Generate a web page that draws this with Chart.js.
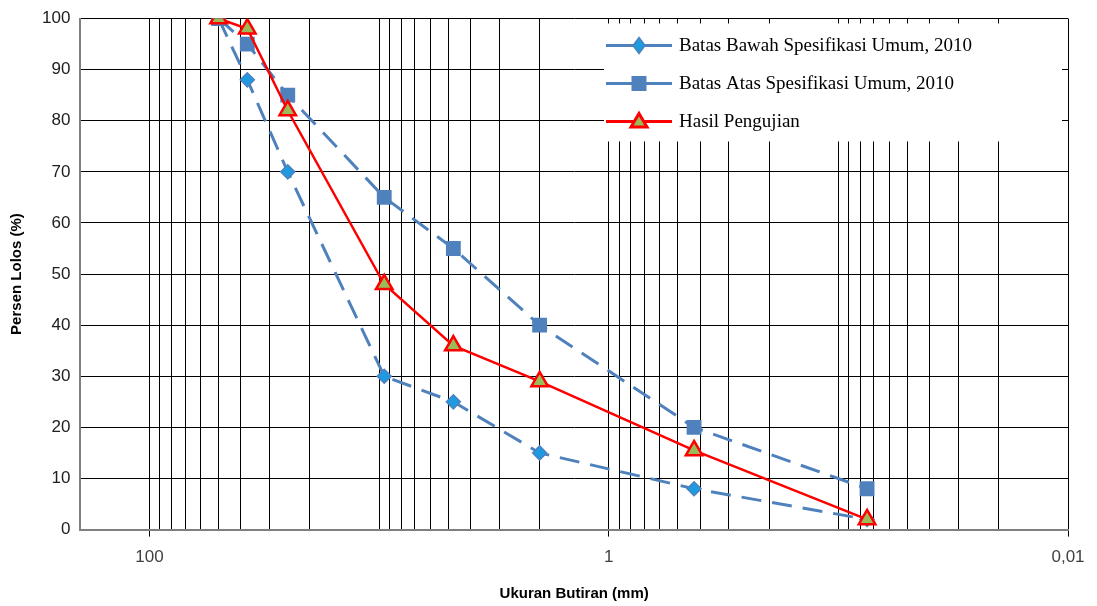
<!DOCTYPE html>
<html>
<head>
<meta charset="utf-8">
<script src="https://cdn.jsdelivr.net/npm/chart.js@4.4.1/dist/chart.umd.min.js"></script>
<style>
  html, body { margin: 0; padding: 0; background: #ffffff; }
  #wrap { width: 1097px; height: 606px; }
</style>
</head>
<body>
<div id="wrap"><canvas id="c" width="1097" height="606"></canvas></div>
<script>
// Sieve sizes (mm)
const sieveSizes = [50, 37.5, 25, 9.5, 4.75, 2, 0.425, 0.075];
// Series values (% passing)
const lowerLimit = [100, 88, 70, 30, 25, 15, 8, 2];
const upperLimit = [100, 95, 85, 65, 55, 40, 20, 8];
const testResult = [100, 98, 82, 48, 36, 29, 15.5, 2];
// Series names
const seriesNames = ['Batas Bawah Spesifikasi Umum, 2010', 'Batas Atas Spesifikasi Umum, 2010', 'Hasil Pengujian'];
// Axis tick labels shown
const xTickValues = [100, 1, 0.01];
const xTickText = ['100', '1', '0,01'];
const xAxisTitle = 'Ukuran Butiran (mm)';
const yAxisTitle = 'Persen Lolos (%)';

const toPoints = (vals) => sieveSizes.map((s, i) => ({ x: s, y: vals[i] }));

const blue = '#4F81BD';

function drawMarker(ctx, style, r, x, y) {
  if (style === 'rectRot') {
    ctx.moveTo(x, y - r); ctx.lineTo(x + r * 0.75, y); ctx.lineTo(x, y + r); ctx.lineTo(x - r * 0.75, y); ctx.closePath();
  } else if (style === 'rect') {
    ctx.rect(x - r, y - r, 2 * r, 2 * r);
  } else if (style === 'triangle') {
    ctx.moveTo(x, y - r); ctx.lineTo(x + r * 1.0, y + r * 0.7); ctx.lineTo(x - r * 1.0, y + r * 0.7); ctx.closePath();
  }
}

const legendPlugin = {
  id: 'insideLegend',
  afterDraw(chart) {
    const ctx = chart.ctx;
    const ca = chart.chartArea;
    const x0 = ca.right - 464, y0 = ca.top + 5, w = 458, h = 118;
    ctx.save();
    ctx.fillStyle = '#ffffff';
    ctx.fillRect(x0, y0, w, h);
    const legendMarkers = [
      { style: 'rectRot', r: 8, fill: '#1E9BE0', stroke: blue, lw: 1.5 },
      { style: 'rect', r: 7.5, fill: blue, stroke: blue, lw: 0 },
      { style: 'triangle', r: 8, fill: '#9BBB59', stroke: '#FF0000', lw: 3 }
    ];
    chart.data.datasets.forEach((ds, i) => {
      const yy = y0 + 22 + i * 38;
      const lx1 = x0 + 2, lx2 = x0 + 68;
      ctx.strokeStyle = ds.borderColor;
      ctx.lineWidth = 3;
      ctx.setLineDash([]);
      ctx.beginPath(); ctx.moveTo(lx1, yy); ctx.lineTo(lx2, yy); ctx.stroke();
      const m = legendMarkers[i];
      ctx.fillStyle = m.fill;
      ctx.strokeStyle = m.stroke;
      ctx.lineWidth = m.lw;
      ctx.beginPath();
      drawMarker(ctx, m.style, m.r, (lx1 + lx2) / 2, yy);
      ctx.fill();
      if (m.lw) ctx.stroke();
      ctx.fillStyle = '#000000';
      ctx.font = '19px "Liberation Serif"';
      ctx.textBaseline = 'middle';
      ctx.textAlign = 'left';
      ctx.fillText(ds.label, lx2 + 7, yy + 1);
    });
    ctx.restore();
  }
};

const isLabeled = (v) => xTickValues.some(t => Math.abs(v - t) < 1e-9);

new Chart(document.getElementById('c'), {
  type: 'scatter',
  data: {
    datasets: [
      {
        label: seriesNames[0],
        data: toPoints(lowerLimit),
        showLine: true,
        borderColor: blue,
        borderWidth: 3,
        borderDash: [20, 11],
        pointStyle: 'rectRot',
        pointRadius: 7,
        pointHoverRadius: 7,
        pointBackgroundColor: '#1E9BE0',
        pointBorderColor: blue,
        pointBorderWidth: 1.5,
        order: 2
      },
      {
        label: seriesNames[1],
        data: toPoints(upperLimit),
        showLine: true,
        borderColor: blue,
        borderWidth: 3,
        borderDash: [20, 11],
        pointStyle: 'rect',
        pointRadius: 10.5,
        pointHoverRadius: 10.5,
        pointBackgroundColor: blue,
        pointBorderColor: blue,
        pointBorderWidth: 0,
        order: 1
      },
      {
        label: seriesNames[2],
        data: toPoints(testResult),
        showLine: true,
        borderColor: '#FF0000',
        borderWidth: 2.5,
        pointStyle: 'triangle',
        pointRadius: 9.5,
        pointHoverRadius: 9.5,
        pointBackgroundColor: '#9BBB59',
        pointBorderColor: '#FF0000',
        pointBorderWidth: 2.5,
        order: 0
      }
    ]
  },
  options: {
    responsive: false,
    animation: false,
    devicePixelRatio: 1,
    layout: { autoPadding: false, padding: { left: 8, right: 29, top: 7, bottom: 3 } },
    plugins: {
      legend: { display: false },
      tooltip: { enabled: false }
    },
    scales: {
      x: {
        type: 'logarithmic',
        reverse: true,
        min: 0.01,
        max: 200,
        afterBuildTicks(scale) {
          const t = [];
          for (let e = -2; e <= 2; e++) {
            for (let s = 1; s <= 9; s++) {
              const v = +(s * Math.pow(10, e)).toPrecision(6);
              if (v >= 0.01 && v <= 200) t.push({ value: v });
            }
          }
          scale.ticks = t;
        },
        ticks: {
          autoSkip: false,
          maxRotation: 0,
          color: '#404040',
          font: { family: '"Liberation Sans", Arial', size: 17 },
          padding: 11,
          callback(v) {
            const i = xTickValues.findIndex(t => Math.abs(v - t) < 1e-9);
            return i >= 0 ? xTickText[i] : '';
          }
        },
        grid: {
          color: '#000000',
          lineWidth: 1,
          drawTicks: true,
          tickLength: 7,
          tickColor(ctx) {
            const v = ctx.tick ? ctx.tick.value : null;
            return (v !== null && isLabeled(v)) ? '#000000' : 'rgba(0,0,0,0)';
          }
        },
        border: { color: '#808080', width: 2 },
        title: {
          display: true,
          text: xAxisTitle,
          color: '#000000',
          font: { family: '"Liberation Sans", Arial', size: 15, weight: 'bold' },
          padding: { top: 6, bottom: 0 }
        }
      },
      y: {
        min: 0,
        max: 100,
        ticks: {
          stepSize: 10,
          color: '#202020',
          font: { family: '"Liberation Sans", Arial', size: 17, lineHeight: 1.0 },
          padding: 10
        },
        grid: { color: '#000000', lineWidth: 1, drawTicks: false },
        border: { color: '#808080', width: 2 },
        title: {
          display: true,
          text: yAxisTitle,
          color: '#000000',
          font: { family: '"Liberation Sans", Arial', size: 15, weight: 'bold' },
          padding: { top: 0, bottom: 6 }
        }
      }
    }
  },
  plugins: [legendPlugin]
});
</script>
</body>
</html>
